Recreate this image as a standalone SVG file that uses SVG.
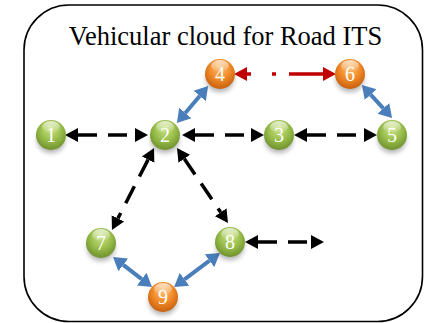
<svg xmlns="http://www.w3.org/2000/svg" width="424" height="323" viewBox="0 0 424 323">
<defs>
<radialGradient id="gG" cx="50%" cy="40%" r="60%" fx="50%" fy="25%">
<stop offset="0" stop-color="#cde58c"/>
<stop offset="0.55" stop-color="#9cc04e"/>
<stop offset="1" stop-color="#6f922c"/>
</radialGradient>
<radialGradient id="gO" cx="50%" cy="40%" r="60%" fx="50%" fy="25%">
<stop offset="0" stop-color="#fcc27a"/>
<stop offset="0.55" stop-color="#f28c2a"/>
<stop offset="1" stop-color="#c8600e"/>
</radialGradient>
<linearGradient id="gloss" x1="0" y1="0" x2="0" y2="1">
<stop offset="0" stop-color="#fff" stop-opacity="0.7"/>
<stop offset="1" stop-color="#fff" stop-opacity="0"/>
</linearGradient>
<filter id="sh" x="-50%" y="-50%" width="200%" height="200%">
<feGaussianBlur stdDeviation="2.5"/>
</filter>
<marker id="ak" markerUnits="userSpaceOnUse" markerWidth="14" markerHeight="16" viewBox="0 -8 14 16" refX="0" refY="0" orient="auto-start-reverse">
<path d="M0,-7 L13,0 L0,7 z" fill="#000"/>
</marker>
<marker id="ar" markerUnits="userSpaceOnUse" markerWidth="14" markerHeight="16" viewBox="0 -8 14 16" refX="0" refY="0" orient="auto-start-reverse">
<path d="M0,-7 L13,0 L0,7 z" fill="#c00000"/>
</marker>
<marker id="ab" markerUnits="userSpaceOnUse" markerWidth="15" markerHeight="18" viewBox="0 -9 15 18" refX="0" refY="0" orient="auto-start-reverse">
<path d="M0,-8 L13,0 L0,8 z" fill="#4a7ebb"/>
</marker>
</defs>
<style>
.frame{fill:#fff;stroke:#000;stroke-width:1.6}
.title{font-family:"Liberation Serif","Times New Roman",serif;font-size:26.5px;fill:#000}
.blk{stroke:#000;stroke-width:3.5;stroke-dasharray:19 11;fill:none;marker-start:url(#ak);marker-end:url(#ak)}
.red{stroke:#c00000;stroke-width:3.5;stroke-dasharray:4 21 4 13 40;fill:none;marker-start:url(#ar);marker-end:url(#ar)}
.blu{stroke:#4a7ebb;stroke-width:4;fill:none;marker-start:url(#ab);marker-end:url(#ab)}
.shadow{fill:#000;opacity:0.3;filter:url(#sh)}
.green{fill:url(#gG)}
.orange{fill:url(#gO)}
.gl{fill:url(#gloss)}
.lbl{font-family:"Liberation Serif","Times New Roman",serif;font-size:20px;fill:#fff;text-anchor:middle}
</style>
<rect class="frame" x="24" y="5" width="398.5" height="316.5" rx="45" ry="45"/>
<text class="title" x="225.5" y="45" text-anchor="middle">Vehicular cloud for Road ITS</text>
<g id="connectors">
<line class="blk" x1="78" y1="135" x2="135" y2="135"/>
<line class="blk" x1="195" y1="135" x2="251" y2="135"/>
<line class="blk" x1="307" y1="135" x2="364" y2="135"/>
<line class="blk" x1="258" y1="242" x2="311" y2="242"/>
<line class="blk" x1="148.1" y1="159.6" x2="117.9" y2="218.4"/>
<line class="blk" x1="184.3" y1="158.8" x2="220.7" y2="212.3"/>
<line class="red" x1="247" y1="74" x2="323" y2="74"/>
<line class="blu" x1="185.3" y1="113" x2="199.7" y2="96"/>
<line class="blu" x1="370.7" y1="94.6" x2="383.3" y2="108.4"/>
<line class="blu" x1="123.3" y1="264.9" x2="141.7" y2="279.1"/>
<line class="blu" x1="184.5" y1="279.3" x2="209.5" y2="260.7"/>
</g>
<g id="n1"><ellipse class="shadow" cx="51" cy="140" rx="14" ry="13"/><circle class="green" cx="51" cy="135" r="15"/><ellipse class="gl" cx="51" cy="127" rx="9" ry="6"/><text class="lbl" x="51" y="142">1</text></g>
<g id="n2"><ellipse class="shadow" cx="165" cy="140" rx="14" ry="13"/><circle class="green" cx="165" cy="135" r="15"/><ellipse class="gl" cx="165" cy="127" rx="9" ry="6"/><text class="lbl" x="165" y="142">2</text></g>
<g id="n3"><ellipse class="shadow" cx="279" cy="140" rx="14" ry="13"/><circle class="green" cx="279" cy="135" r="15"/><ellipse class="gl" cx="279" cy="127" rx="9" ry="6"/><text class="lbl" x="279" y="142">3</text></g>
<g id="n5"><ellipse class="shadow" cx="392" cy="140" rx="14" ry="13"/><circle class="green" cx="392" cy="135" r="15"/><ellipse class="gl" cx="392" cy="127" rx="9" ry="6"/><text class="lbl" x="392" y="142">5</text></g>
<g id="n4"><ellipse class="shadow" cx="220" cy="79" rx="14" ry="13"/><circle class="orange" cx="220" cy="74" r="15"/><ellipse class="gl" cx="220" cy="66" rx="9" ry="6"/><text class="lbl" x="220" y="81">4</text></g>
<g id="n6"><ellipse class="shadow" cx="350" cy="79" rx="14" ry="13"/><circle class="orange" cx="350" cy="74" r="15"/><ellipse class="gl" cx="350" cy="66" rx="9" ry="6"/><text class="lbl" x="350" y="81">6</text></g>
<g id="n7"><ellipse class="shadow" cx="101" cy="248" rx="14" ry="13"/><circle class="green" cx="101" cy="243" r="15"/><ellipse class="gl" cx="101" cy="235" rx="9" ry="6"/><text class="lbl" x="101" y="250">7</text></g>
<g id="n8"><ellipse class="shadow" cx="230" cy="247" rx="14" ry="13"/><circle class="green" cx="230" cy="242" r="15"/><ellipse class="gl" cx="230" cy="234" rx="9" ry="6"/><text class="lbl" x="230" y="249">8</text></g>
<g id="n9"><ellipse class="shadow" cx="163" cy="302" rx="14" ry="13"/><circle class="orange" cx="163" cy="297" r="15"/><ellipse class="gl" cx="163" cy="289" rx="9" ry="6"/><text class="lbl" x="163" y="304">9</text></g>
</svg>
